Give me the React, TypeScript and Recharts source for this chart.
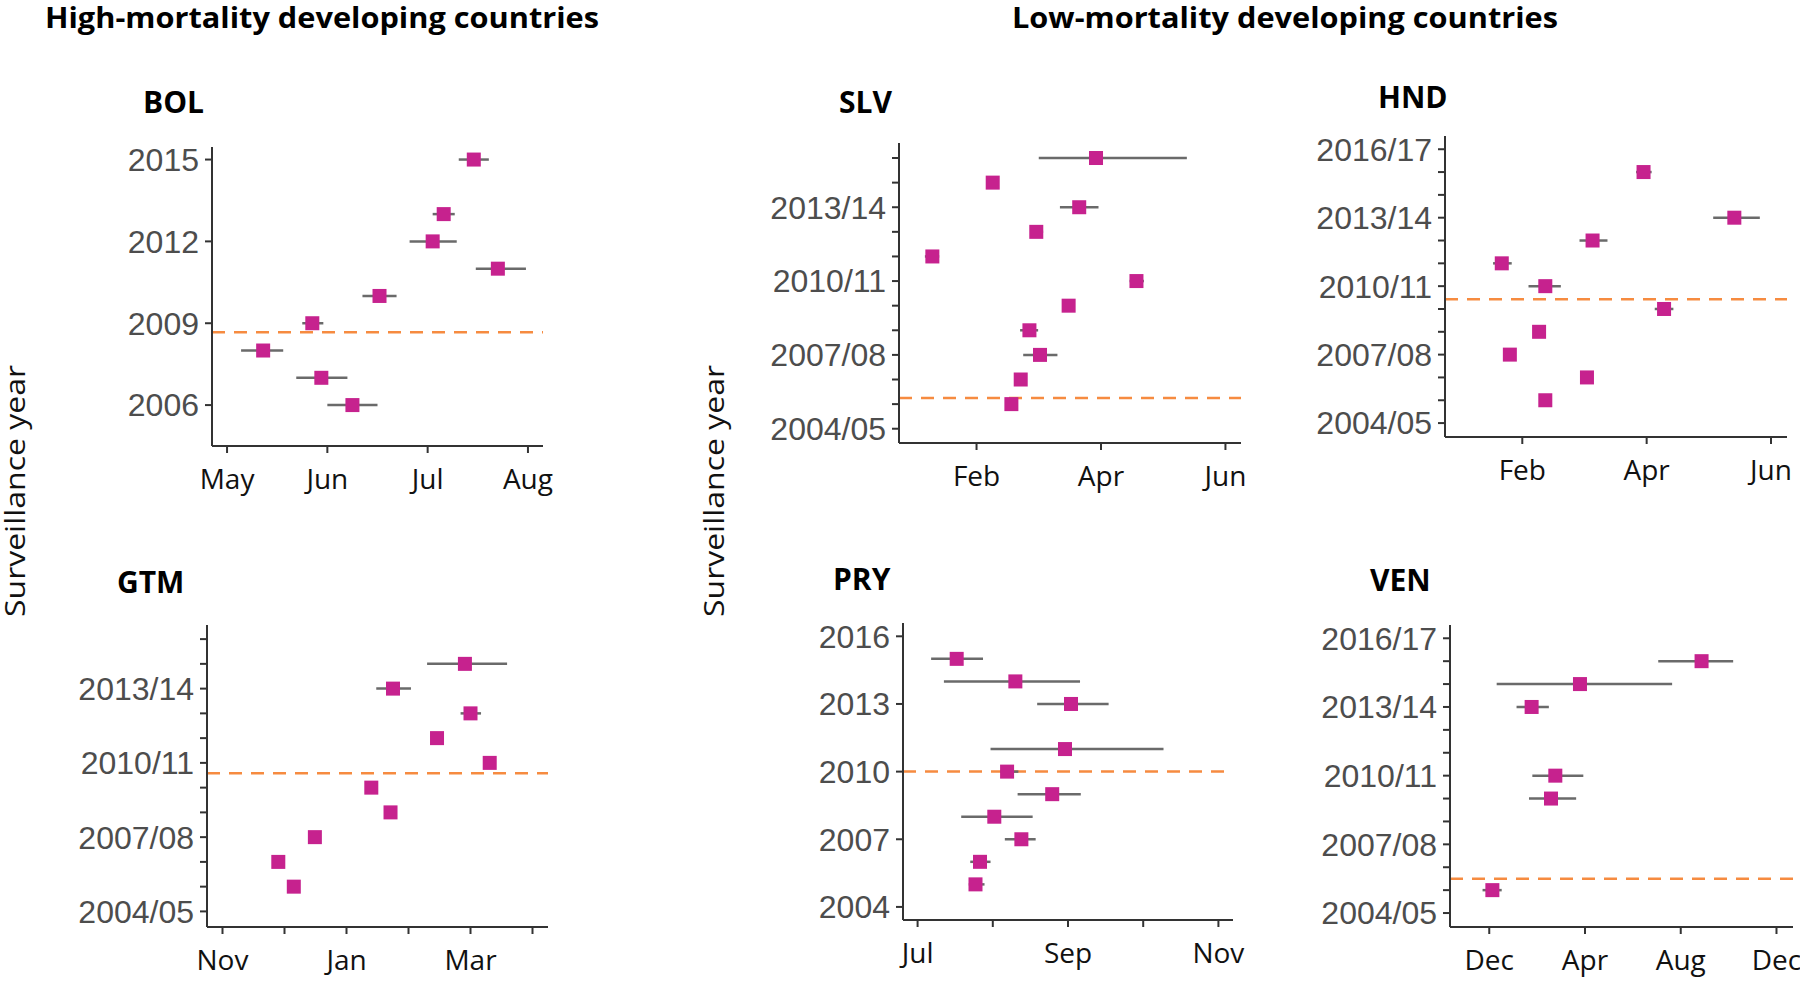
import React from 'react';
import { ScatterChart, Scatter, XAxis, YAxis, ErrorBar, ReferenceLine } from 'recharts';

// ---------- month / year labels ----------
const MONTH_NAMES = ['Jan', 'Feb', 'Mar', 'Apr', 'May', 'Jun', 'Jul', 'Aug', 'Sep', 'Oct', 'Nov', 'Dec'];

// ---------- BOL ----------
const BOL_YEARS = [2006, 2007, 2008, 2009, 2010, 2011, 2012, 2013, 2015];
const BOL_PEAK = [6.25, 5.94, 5.36, 5.85, 6.52, 7.70, 7.05, 7.16, 7.46];
const BOL_LOW = [6.0, 5.69, 5.14, 5.75, 6.35, 7.48, 6.82, 7.05, 7.31];
const BOL_HIGH = [6.5, 6.2, 5.56, 5.96, 6.69, 7.98, 7.29, 7.27, 7.61];
const BOL_REF = 2008.67;
const BOL_X_TICKS = [5, 6, 7, 8];
const BOL_X_LABELED = [5, 6, 7, 8];
const BOL_Y_TICKS = [2006, 2009, 2012, 2015];
const BOL_Y_LABELED = [2006, 2009, 2012, 2015];

// ---------- GTM ----------
const GTM_YEARS = [2005, 2006, 2007, 2008, 2009, 2010, 2011, 2012, 2013, 2014];
const GTM_PEAK = [12.15, 11.9, 12.49, 13.71, 13.4, 15.31, 14.46, 15.0, 13.75, 14.91];
const GTM_LOW = [12.15, 11.9, 12.49, 13.71, 13.4, 15.31, 14.46, 14.84, 13.48, 14.3];
const GTM_HIGH = [12.15, 11.9, 12.49, 13.71, 13.4, 15.31, 14.46, 15.17, 14.04, 15.59];
const GTM_REF = 2009.58;
const GTM_X_TICKS = [11, 12, 13, 14, 15, 16];
const GTM_X_LABELED = [11, 13, 15];
const GTM_Y_TICKS = [2004, 2005, 2006, 2007, 2008, 2009, 2010, 2011, 2012, 2013, 2014, 2015];
const GTM_Y_LABELED = [2004, 2007, 2010, 2013];

// ---------- SLV ----------
const SLV_YEARS = [2005, 2006, 2007, 2008, 2009, 2010, 2011, 2012, 2013, 2014, 2015];
const SLV_PEAK = [2.56, 2.71, 3.02, 2.85, 3.48, 4.57, 1.29, 2.96, 3.65, 2.26, 3.92];
const SLV_LOW = [2.56, 2.71, 2.75, 2.7, 3.48, 4.46, 1.17, 2.86, 3.34, 2.22, 3.0];
const SLV_HIGH = [2.56, 2.71, 3.3, 2.99, 3.48, 4.69, 1.4, 3.07, 3.96, 2.3, 5.38];
const SLV_REF = 2005.25;
const SLV_X_TICKS = [2, 4, 6];
const SLV_X_LABELED = [2, 4, 6];
const SLV_Y_TICKS = [2004, 2005, 2006, 2007, 2008, 2009, 2010, 2011, 2012, 2013, 2014, 2015];
const SLV_Y_LABELED = [2004, 2007, 2010, 2013];

// ---------- HND ----------
const HND_YEARS = [2005, 2006, 2007, 2008, 2009, 2010, 2011, 2012, 2013, 2015];
const HND_PEAK = [2.37, 3.04, 1.8, 2.27, 4.28, 2.37, 1.67, 3.13, 5.41, 3.95];
const HND_LOW = [2.37, 3.04, 1.8, 2.27, 4.13, 2.1, 1.53, 2.92, 5.07, 3.83];
const HND_HIGH = [2.37, 3.04, 1.8, 2.27, 4.43, 2.62, 1.83, 3.37, 5.82, 4.08];
const HND_REF = 2009.43;
const HND_X_TICKS = [2, 4, 6];
const HND_X_LABELED = [2, 4, 6];
const HND_Y_TICKS = [2004, 2005, 2006, 2007, 2008, 2009, 2010, 2011, 2012, 2013, 2014, 2015, 2016];
const HND_Y_LABELED = [2004, 2007, 2010, 2013, 2016];

// ---------- PRY ----------
const PRY_YEARS = [2005, 2006, 2007, 2008, 2009, 2010, 2011, 2013, 2014, 2015];
const PRY_PEAK = [7.77, 7.83, 8.38, 8.02, 8.79, 8.19, 8.96, 9.04, 8.3, 7.52];
const PRY_LOW = [7.68, 7.7, 8.16, 7.58, 8.33, 8.1, 7.97, 8.59, 7.35, 7.18];
const PRY_HIGH = [7.89, 7.97, 8.57, 8.53, 9.17, 8.34, 10.27, 9.54, 9.16, 7.87];
const PRY_REF = 2010;
const PRY_X_TICKS = [7, 8, 9, 10, 11];
const PRY_X_LABELED = [7, 9, 11];
const PRY_Y_TICKS = [2004, 2007, 2010, 2013, 2016];
const PRY_Y_LABELED = [2004, 2007, 2010, 2013, 2016];

// ---------- VEN ----------
const VEN_YEARS = [2005, 2009, 2010, 2013, 2014, 2015];
const VEN_PEAK = [12.13, 14.58, 14.76, 13.77, 15.79, 20.87];
const VEN_LOW = [11.72, 13.66, 13.8, 13.14, 12.31, 19.06];
const VEN_HIGH = [12.52, 15.63, 15.93, 14.49, 19.64, 22.19];
const VEN_REF = 2005.5;
const VEN_X_TICKS = [12, 16, 20, 24];
const VEN_X_LABELED = [12, 16, 20, 24];
const VEN_Y_TICKS = [2004, 2005, 2006, 2007, 2008, 2009, 2010, 2011, 2012, 2013, 2014, 2015, 2016];
const VEN_Y_LABELED = [2004, 2007, 2010, 2013, 2016];

// ---------- style / layout ----------
const MAGENTA = '#C6228E';
const ERR_GRAY = '#6a6a6a';
const ORANGE = '#F68B40';
const AXIS = '#333333';

const YW = 150;
const MT = 12;
const MR = 30;
const XH = 64;

type Rect = { x: number; y: number; w: number; h: number };

interface PanelDef {
  code: string;
  years: number[];
  peak: number[];
  low: number[];
  high: number[];
  ref: number;
  xTicks: number[];
  xLabeled: number[];
  yTicks: number[];
  yLabeled: number[];
  xDomain: [number, number];
  yDomain: [number, number];
  season: boolean;
  rect: Rect;
  title: { x: number; y: number };
}

const PANELS: PanelDef[] = [
  {
    code: 'BOL', years: BOL_YEARS, peak: BOL_PEAK, low: BOL_LOW, high: BOL_HIGH, ref: BOL_REF,
    xTicks: BOL_X_TICKS, xLabeled: BOL_X_LABELED, yTicks: BOL_Y_TICKS, yLabeled: BOL_Y_LABELED,
    xDomain: [4.85, 8.15], yDomain: [2004.5, 2015.46], season: false,
    rect: { x: 212, y: 147, w: 331, h: 299 }, title: { x: 143, y: 113 },
  },
  {
    code: 'GTM', years: GTM_YEARS, peak: GTM_PEAK, low: GTM_LOW, high: GTM_HIGH, ref: GTM_REF,
    xTicks: GTM_X_TICKS, xLabeled: GTM_X_LABELED, yTicks: GTM_Y_TICKS, yLabeled: GTM_Y_LABELED,
    xDomain: [10.75, 16.25], yDomain: [2003.37, 2015.57], season: true,
    rect: { x: 207, y: 625, w: 341, h: 302 }, title: { x: 117, y: 593 },
  },
  {
    code: 'SLV', years: SLV_YEARS, peak: SLV_PEAK, low: SLV_LOW, high: SLV_HIGH, ref: SLV_REF,
    xTicks: SLV_X_TICKS, xLabeled: SLV_X_LABELED, yTicks: SLV_Y_TICKS, yLabeled: SLV_Y_LABELED,
    xDomain: [0.754, 6.25], yDomain: [2003.42, 2015.61], season: true,
    rect: { x: 899, y: 143, w: 342, h: 300 }, title: { x: 839, y: 113 },
  },
  {
    code: 'HND', years: HND_YEARS, peak: HND_PEAK, low: HND_LOW, high: HND_HIGH, ref: HND_REF,
    xTicks: HND_X_TICKS, xLabeled: HND_X_LABELED, yTicks: HND_Y_TICKS, yLabeled: HND_Y_LABELED,
    xDomain: [0.757, 6.257], yDomain: [2003.39, 2016.58], season: true,
    rect: { x: 1445, y: 136, w: 342, h: 301 }, title: { x: 1378, y: 108 },
  },
  {
    code: 'PRY', years: PRY_YEARS, peak: PRY_PEAK, low: PRY_LOW, high: PRY_HIGH, ref: PRY_REF,
    xTicks: PRY_X_TICKS, xLabeled: PRY_X_LABELED, yTicks: PRY_Y_TICKS, yLabeled: PRY_Y_LABELED,
    xDomain: [6.806, 11.194], yDomain: [2003.42, 2016.59], season: false,
    rect: { x: 903, y: 623, w: 330, h: 297 }, title: { x: 833, y: 590 },
  },
  {
    code: 'VEN', years: VEN_YEARS, peak: VEN_PEAK, low: VEN_LOW, high: VEN_HIGH, ref: VEN_REF,
    xTicks: VEN_X_TICKS, xLabeled: VEN_X_LABELED, yTicks: VEN_Y_TICKS, yLabeled: VEN_Y_LABELED,
    xDomain: [10.36, 24.69], yDomain: [2003.39, 2016.58], season: true,
    rect: { x: 1450, y: 625, w: 343, h: 302 }, title: { x: 1370, y: 591 },
  },
];

const monthLabel = (m: number) => MONTH_NAMES[(((Math.round(m) - 1) % 12) + 12) % 12];
const seasonLabel = (y: number) => `${y}/${String((y + 1) % 100).padStart(2, '0')}`;

const Square = (props: any) => {
  const { cx, cy } = props;
  if (cx == null || cy == null) return <g />;
  return <rect x={cx - 7} y={cy - 7} width={14} height={14} fill={MAGENTA} />;
};

function Panel({ p }: { p: PanelDef }) {
  const rows = p.years.map((yr, i) => ({
    year: yr,
    peak: p.peak[i],
    err: [p.peak[i] - p.low[i], p.high[i] - p.peak[i]],
  }));
  const width = p.rect.w + YW + MR;
  const height = p.rect.h + MT + XH;
  return (
    <div style={{ position: 'absolute', left: p.rect.x - YW, top: p.rect.y - MT, width, height }}>
      <ScatterChart width={width} height={height} margin={{ top: MT, right: MR, bottom: 0, left: 0 }}>
        <XAxis
          type="number"
          dataKey="peak"
          domain={p.xDomain}
          allowDataOverflow
          ticks={p.xTicks}
          interval={0}
          height={XH}
          tickSize={7}
          tickMargin={16}
          axisLine={{ stroke: AXIS, strokeWidth: 2 }}
          tickLine={{ stroke: AXIS, strokeWidth: 2 }}
          tick={{ fontSize: 28, fill: '#111111', fontFamily: '"Open Sans", sans-serif' }}
          tickFormatter={(v: number) => (p.xLabeled.includes(v) ? monthLabel(v) : '')}
        />
        <YAxis
          type="number"
          dataKey="year"
          domain={p.yDomain}
          allowDataOverflow
          ticks={p.yTicks}
          interval={0}
          width={YW}
          tickSize={7}
          tickMargin={6}
          axisLine={{ stroke: AXIS, strokeWidth: 2 }}
          tickLine={{ stroke: AXIS, strokeWidth: 2 }}
          tick={{ fontSize: 32, fill: '#4d4d4d', fontFamily: '"Liberation Sans", Arial, sans-serif' }}
          tickFormatter={(v: number) =>
            p.yLabeled.includes(v) ? (p.season ? seasonLabel(v) : String(v)) : ''
          }
        />
        <ReferenceLine
          y={p.ref}
          stroke={ORANGE}
          strokeWidth={2.5}
          strokeDasharray="13 9"
          ifOverflow="hidden"
        />
        <Scatter data={rows} shape={Square} isAnimationActive={false}>
          <ErrorBar
            dataKey="err"
            direction="x"
            width={0}
            stroke={ERR_GRAY}
            strokeWidth={2.5}
            isAnimationActive={false}
          />
        </Scatter>
      </ScatterChart>
    </div>
  );
}

export default function App() {
  return (
    <div
      style={{
        position: 'absolute',
        left: 0,
        top: 0,
        width: 1800,
        height: 982,
        overflow: 'hidden',
        background: '#ffffff',
      }}
    >
      {PANELS.map((p) => (
        <Panel key={p.code} p={p} />
      ))}
      <svg
        width={1800}
        height={982}
        style={{ position: 'absolute', left: 0, top: 0, pointerEvents: 'none' }}
      >
        <text
          x={45}
          y={28}
          fontFamily='"Open Sans", sans-serif'
          fontWeight={700}
          fontSize={29}
          fill="#000"
          textLength={554}
          lengthAdjust="spacingAndGlyphs"
        >
          High-mortality developing countries
        </text>
        <text
          x={1012}
          y={28}
          fontFamily='"Open Sans", sans-serif'
          fontWeight={700}
          fontSize={29}
          fill="#000"
          textLength={546}
          lengthAdjust="spacingAndGlyphs"
        >
          Low-mortality developing countries
        </text>
        {PANELS.map((p) => (
          <text
            key={p.code}
            x={p.title.x}
            y={p.title.y}
            fontFamily='"Open Sans", sans-serif'
            fontWeight={700}
            fontSize={30}
            fill="#000"
          >
            {p.code}
          </text>
        ))}
        {[13, 712].map((cx) => (
          <text
            key={cx}
            x={0}
            y={0}
            transform={`translate(${cx + 12},491) rotate(-90)`}
            textAnchor="middle"
            fontFamily='"Open Sans", sans-serif'
            fontSize={27}
            fill="#111"
            textLength={252}
            lengthAdjust="spacingAndGlyphs"
          >
            Surveillance year
          </text>
        ))}
      </svg>
    </div>
  );
}
